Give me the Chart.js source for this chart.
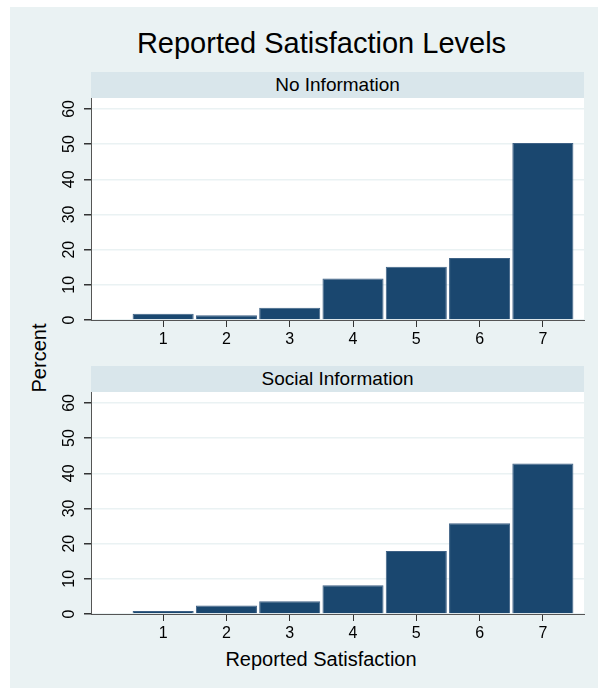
<!DOCTYPE html>
<html>
<head>
<meta charset="utf-8">
<script src="https://cdn.jsdelivr.net/npm/chart.js@4.4.0/dist/chart.umd.min.js"></script>
<style>
  body { margin: 0; width: 600px; height: 690px; background: #fff; position: relative; font-family: "Liberation Sans", Arial, sans-serif; }
  #fondo { position: absolute; left: 10px; top: 7px; width: 588px; height: 681px; background: #EAF2F3; }
  .abs { position: absolute; color: #000; white-space: nowrap; }
  #titulo { left: 0; width: 643px; top: 27px; font-size: 29px; text-align: center; }
  .franja { left: 91px; width: 493px; height: 26px; line-height: 26px; background: #D9E6EB; font-size: 19px; text-align: center; }
  #ejeX { left: 0; width: 642px; top: 648px; font-size: 20px; text-align: center; }
  #ejeY { left: 39px; top: 358px; font-size: 20px; transform: translate(-50%, -50%) rotate(-90deg); }
  canvas { position: absolute; left: 10px; }
</style>
</head>
<body>
<div id="fondo"></div>
<div class="abs" id="titulo">Reported Satisfaction Levels</div>
<div class="abs franja" style="top:72px">No Information</div>
<div class="abs franja" style="top:366px">Social Information</div>
<div class="abs" id="ejeY">Percent</div>
<div class="abs" id="ejeX">Reported Satisfaction</div>
<canvas id="panel1" width="588" height="280" style="top:72px"></canvas>
<canvas id="panel2" width="588" height="280" style="top:366px"></canvas>
<script>
// Datos (porcentaje por nivel de satisfacción)
const categorias = [1, 2, 3, 4, 5, 6, 7];
const sinInformacion = [1.8, 1.35, 3.5, 11.8, 15.1, 17.6, 50.3];
const infoSocial = [0.85, 2.4, 3.6, 8.2, 17.9, 25.8, 42.8];
const ticksY = [0, 10, 20, 30, 40, 50, 60];

// Fondo blanco del área de trazado
const fondoArea = {
    id: 'fondoArea',
    beforeDraw(chart) {
        const { ctx, chartArea: a } = chart;
        ctx.save();
        ctx.fillStyle = '#ffffff';
        ctx.fillRect(a.left, a.top, a.right - a.left, a.bottom - a.top);
        ctx.restore();
    }
};

function crearPanel(id, valores) {
    const ctx = document.getElementById(id).getContext('2d');
    return new Chart(ctx, {
        type: 'bar',
        data: {
            datasets: [{
                data: categorias.map((c, i) => ({ x: c, y: valores[i] })),
                backgroundColor: '#1A476F',
                borderColor: '#3E6185',
                borderWidth: 1,
                barPercentage: 0.965,
                categoryPercentage: 1
            }]
        },
        options: {
            responsive: false,
            animation: false,
            layout: { padding: { top: 26, right: 14, left: 0, bottom: 0 } },
            plugins: { legend: { display: false }, tooltip: { enabled: false } },
            scales: {
                x: {
                    type: 'linear',
                    min: -0.14,
                    max: 7.65,
                    offset: false,
                    afterBuildTicks: (scale) => { scale.ticks = categorias.map(v => ({ value: v })); },
                    afterFit: (scale) => { scale.height = 32; },
                    grid: { display: true, offset: false, drawOnChartArea: false, tickLength: 7, tickColor: '#333' },
                    border: { color: '#555', width: 1 },
                    ticks: { color: '#000', font: { size: 16, family: 'Liberation Sans' }, padding: 3, maxRotation: 0 }
                },
                y: {
                    min: 0,
                    max: 63.1,
                    afterBuildTicks: (scale) => { scale.ticks = ticksY.map(v => ({ value: v })); },
                    afterFit: (scale) => { scale.width = 81; },
                    grid: { color: '#EAF2F3', lineWidth: 1.5, tickLength: 7, tickColor: '#333' },
                    border: { color: '#555', width: 1 },
                    ticks: {
                        color: '#000',
                        font: { size: 16, family: 'Liberation Sans' },
                        minRotation: 90,
                        maxRotation: 90,
                        crossAlign: 'center',
                        padding: 6
                    }
                }
            }
        },
        plugins: [fondoArea]
    });
}

crearPanel('panel1', sinInformacion);
crearPanel('panel2', infoSocial);
</script>
</body>
</html>
